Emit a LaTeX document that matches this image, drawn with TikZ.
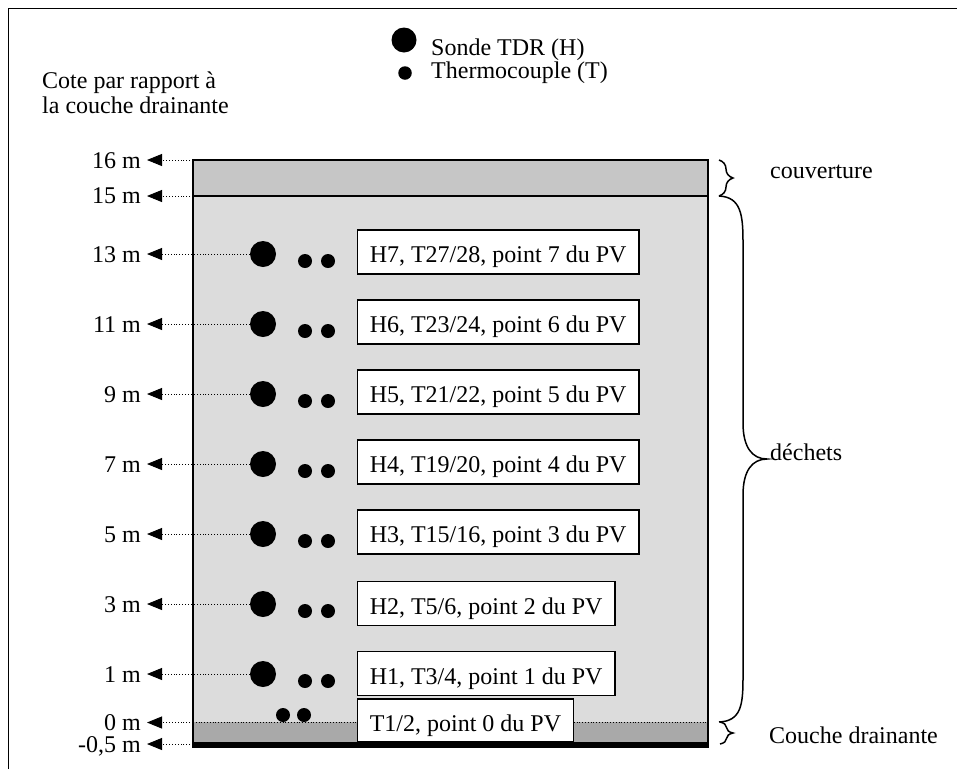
\documentclass[tikz,border=0pt]{standalone}
\usepackage{fontspec}
\setmainfont{Liberation Serif}
\usetikzlibrary{arrows.meta,decorations.pathreplacing}
\definecolor{waste}{HTML}{DCDCDC}
\definecolor{cover}{HTML}{C6C6C6}
\definecolor{drain}{HTML}{A9A9A9}
\begin{document}
\begin{tikzpicture}[x=1pt,y=-1pt,
  txt/.style={font=\fontsize{24}{25.5}\selectfont, inner sep=0pt},
  bigdot/.style={circle, fill=black, inner sep=0pt, minimum size=26pt},
  smalldot/.style={circle, fill=black, inner sep=0pt, minimum size=14pt},
  infobox/.style={draw, line width=1.5pt, fill=white, font=\fontsize{24}{25.5}\selectfont,
    inner xsep=12.5pt, inner ysep=0pt, minimum height=44pt, text height=21pt, text depth=0pt, anchor=west},
  leader/.style={dotted, line width=0.9pt, -{Triangle[length=15pt,width=12pt]}},
  lvl/.style={txt, anchor=base east},
  smallbrace/.style={decorate, decoration={brace, amplitude=14pt}, line width=1.5pt}
]
\useasboundingbox (0,0) rectangle (957,769);
% outer frame (cropped)
\draw[line width=1.2pt] (8.5,769) -- (8.5,8.5) -- (957,8.5);

% legend
\node[circle, fill=black, inner sep=0pt, minimum size=25pt] (legH) at (404,40) {};
\node[txt, anchor=base west] (legHt) at (431,55) {Sonde TDR (H)};
\node[circle, fill=black, inner sep=0pt, minimum size=13.5pt] (legT) at (405,73) {};
\node[txt, anchor=base west] (legTt) at (431,78) {Thermocouple (T)};

\node[txt, align=left, anchor=north west] (cote) at (42,71.5) {Cote par rapport à\\la couche drainante};

% layers
\fill[cover] (193,160) rectangle (708,196);
\fill[waste] (193,196) rectangle (708,722);
\fill[drain] (193,722) rectangle (708,742);
\fill[black] (193,742) rectangle (708,747.5);
\draw[line width=1.5pt] (193,196) -- (708,196);
\draw[line width=0.8pt, dotted] (193,722) -- (708,722);
\draw[line width=1.5pt] (193,160) rectangle (708,747.5);

% level labels and free leader ends
\node[lvl] (l16) at (141,168) {16 m};
\node[lvl] (l15) at (141,203.5) {15 m};
\node[lvl] (l13) at (141,262) {13 m};
\node[lvl] (l11) at (141,332) {11 m};
\node[lvl] (l9) at (141,402) {9 m};
\node[lvl] (l7) at (141,472) {7 m};
\node[lvl] (l5) at (141,542) {5 m};
\node[lvl] (l3) at (141,612) {3 m};
\node[lvl] (l1) at (141,682) {1 m};
\node[lvl] (l0) at (141,730.5) {0 m};
\node[lvl] (lm) at (141,752) {-0,5 m};

\coordinate (a16) at (147,160);
\coordinate (a15) at (147,196);
\coordinate (a13) at (147,254);
\coordinate (a11) at (147,324);
\coordinate (a9) at (147,394);
\coordinate (a7) at (147,464);
\coordinate (a5) at (147,534);
\coordinate (a3) at (147,604);
\coordinate (a1) at (147,674);
\coordinate (a0) at (147,722.5);
\coordinate (am) at (147,744);

\coordinate (e16) at (193,160);
\coordinate (e15) at (193,196);
\coordinate (e0) at (193,722.5);
\coordinate (em) at (193,744);

\draw[leader] (e16) -- (a16);
\draw[leader] (e15) -- (a15);
\draw[leader] (e0) -- (a0);
\draw[leader] (em) -- (am);

% probe rows
\node[bigdot] (h7) at (263,254) {};
\node[smalldot] (ta7) at (305,261) {};
\node[smalldot] (tb7) at (328,261) {};
\node[infobox] (b7) at (356.5,252) {H7, T27/28, point 7 du PV};
\draw[leader] (h7) -- (a13);

\node[bigdot] (h6) at (263,324) {};
\node[smalldot] (ta6) at (305,331) {};
\node[smalldot] (tb6) at (328,331) {};
\node[infobox] (b6) at (356.5,322) {H6, T23/24, point 6 du PV};
\draw[leader] (h6) -- (a11);

\node[bigdot] (h5) at (263,394) {};
\node[smalldot] (ta5) at (305,401) {};
\node[smalldot] (tb5) at (328,401) {};
\node[infobox] (b5) at (356.5,392) {H5, T21/22, point 5 du PV};
\draw[leader] (h5) -- (a9);

\node[bigdot] (h4) at (263,464) {};
\node[smalldot] (ta4) at (305,471) {};
\node[smalldot] (tb4) at (328,471) {};
\node[infobox] (b4) at (356.5,462) {H4, T19/20, point 4 du PV};
\draw[leader] (h4) -- (a7);

\node[bigdot] (h3) at (263,534) {};
\node[smalldot] (ta3) at (305,541) {};
\node[smalldot] (tb3) at (328,541) {};
\node[infobox] (b3) at (356.5,532) {H3, T15/16, point 3 du PV};
\draw[leader] (h3) -- (a5);

\node[bigdot] (h2) at (263,604) {};
\node[smalldot] (ta2) at (305,611) {};
\node[smalldot] (tb2) at (328,611) {};
\node[infobox] (b2) at (356.5,603.5) {H2, T5/6, point 2 du PV};
\draw[leader] (h2) -- (a3);

\node[bigdot] (h1) at (263,674) {};
\node[smalldot] (ta1) at (305,681) {};
\node[smalldot] (tb1) at (328,681) {};
\node[infobox] (b1) at (356.5,673.5) {H1, T3/4, point 1 du PV};
\draw[leader] (h1) -- (a1);

\node[smalldot] (ta0) at (283,715) {};
\node[smalldot] (tb0) at (304,715) {};
\node[infobox, minimum height=43pt] (b0) at (356.5,720.5) {T1/2, point 0 du PV};

% braces
\draw[smallbrace] (719,160) -- (719,196);
\draw[smallbrace, decoration={amplitude=13pt}] (720,722) -- (720,744);
\draw[line width=1.5pt] (719,196) .. controls (741,197) and (743,215) .. (743,242)
  -- (743,423) .. controls (743,447) and (752,459) .. (767,459)
  .. controls (752,459) and (743,471) .. (743,495)
  -- (743,678) .. controls (743,705) and (741,721) .. (719,722);

\node[txt, anchor=west] (tcov) at (770,172) {couverture};
\node[txt, anchor=west] (tdech) at (770,452) {déchets};
\node[txt, anchor=west] (tdrain) at (769,735) {Couche drainante};
\end{tikzpicture}
\end{document}
